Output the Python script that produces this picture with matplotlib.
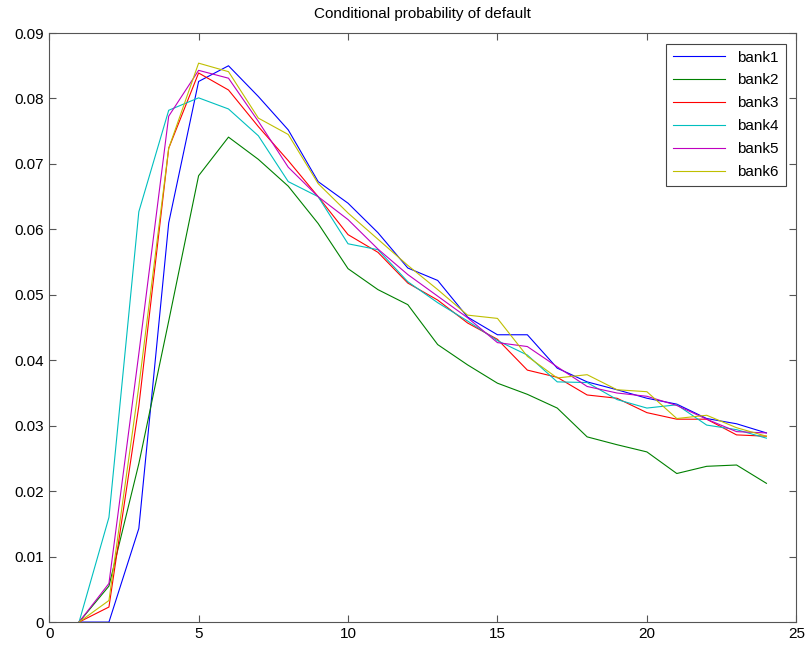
"""
Conditional probability of default for six banks, MATLAB-style line chart.
"""

import numpy as np
import matplotlib
matplotlib.use('Agg')
import matplotlib.pyplot as plt

periods = np.arange(1, 25)

bank1 = [0, 0, 0.0143, 0.061, 0.0826, 0.085, 0.0803, 0.0752, 0.0673, 0.064, 0.0595, 0.0541,
         0.0522, 0.0466, 0.0439, 0.0439, 0.0388, 0.0367, 0.0355, 0.0342, 0.0333, 0.0311, 0.0303, 0.0289]
bank2 = [0, 0.0055, 0.0242, 0.046, 0.0682, 0.0741, 0.0707, 0.0666, 0.0609, 0.054, 0.0508, 0.0485,
         0.0424, 0.0393, 0.0365, 0.0348, 0.0327, 0.0283, 0.0271, 0.026, 0.0227, 0.0238, 0.024, 0.0212]
bank3 = [0, 0.0023, 0.033, 0.0724, 0.0839, 0.0813, 0.0757, 0.0705, 0.065, 0.0592, 0.0565, 0.0518,
         0.0492, 0.0457, 0.0432, 0.0385, 0.0374, 0.0347, 0.0342, 0.032, 0.031, 0.031, 0.0286, 0.0284]
bank4 = [0, 0.016, 0.0627, 0.0782, 0.0801, 0.0784, 0.0743, 0.0673, 0.065, 0.0578, 0.0569, 0.052,
         0.0488, 0.046, 0.043, 0.0408, 0.0367, 0.0366, 0.034, 0.0327, 0.0332, 0.0301, 0.0294, 0.0281]
bank5 = [0, 0.0059, 0.041, 0.0773, 0.0843, 0.0831, 0.0765, 0.0695, 0.065, 0.0615, 0.057, 0.0531,
         0.0498, 0.0465, 0.0427, 0.0421, 0.039, 0.036, 0.035, 0.0345, 0.0331, 0.031, 0.0291, 0.0289]
bank6 = [0, 0.0033, 0.036, 0.0724, 0.0854, 0.0841, 0.077, 0.0745, 0.067, 0.0625, 0.0585, 0.0545,
         0.0508, 0.0469, 0.0464, 0.0406, 0.0373, 0.0378, 0.0355, 0.0352, 0.0311, 0.0316, 0.0297, 0.0284]

names = ['bank1', 'bank2', 'bank3', 'bank4', 'bank5', 'bank6']
series = [bank1, bank2, bank3, bank4, bank5, bank6]
# MATLAB default line colours
colors = [(0, 0, 1), (0, 0.5, 0), (1, 0, 0), (0, 0.75, 0.75), (0.75, 0, 0.75), (0.75, 0.75, 0)]

plt.rcParams['font.family'] = ['Liberation Sans', 'DejaVu Sans']

fig = plt.figure(figsize=(8.06, 6.48), dpi=100)
ax = fig.add_axes([0.061, 0.04, 0.927, 0.909])

for name, vals, col in zip(names, series, colors):
    ax.plot(periods, vals, color=col, linewidth=0.8, label=name)

ax.set_xlim(0, 25)
ax.set_ylim(0, 0.09)
ax.set_xticks(np.arange(0, 26, 5))
ax.set_yticks(np.arange(0, 0.0901, 0.01))
ax.set_yticklabels(['0', '0.01', '0.02', '0.03', '0.04', '0.05', '0.06', '0.07', '0.08', '0.09'])
ax.tick_params(direction='in', top=True, right=True, labelsize=11, length=5, width=0.8,
               color='#555555')
for sp in ax.spines.values():
    sp.set_color('#555555')
    sp.set_linewidth(0.8)

ax.set_title('Conditional probability of default', fontsize=11, pad=11)

leg = ax.legend(loc='upper right', fontsize=11, fancybox=False, framealpha=1,
                edgecolor='#444444', handlelength=3.4, borderaxespad=0.7,
                labelspacing=0.58, borderpad=0.45)
leg.get_frame().set_linewidth(0.8)

fig.savefig('out.png', dpi=100)
